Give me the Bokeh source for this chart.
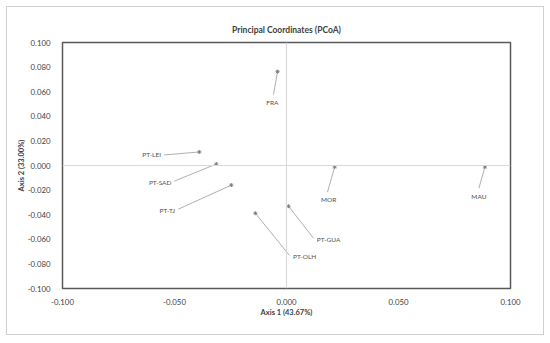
from bokeh.plotting import figure
from bokeh.models import ColumnDataSource, Span, Range1d, FixedTicker, CustomJSTickFormatter, LabelSet
from bokeh.core.properties import value
from bokeh.embed import file_html
from bokeh.resources import INLINE

# ---- data ----
names = ["FRA", "PT-LEI", "PT-SAD", "PT-TJ", "PT-OLH", "PT-GUA", "MOR", "MAU"]
axis1 = [-0.0040, -0.0389, -0.0313, -0.0246, -0.0139, 0.0009, 0.0215, 0.0886]
axis2 = [0.0763, 0.0110, 0.0012, -0.0159, -0.0388, -0.0331, -0.0012, -0.0012]
# label anchors (data coordinates) and leader-line start points
label_x = [-0.0063, -0.0602, -0.0564, -0.0532, 0.0081, 0.0188, 0.0188, 0.0859]
label_y = [0.0510, 0.0086, -0.0135, -0.0363, -0.0739, -0.0600, -0.0273, -0.0249]
lead_x = [-0.0058, -0.0546, -0.0501, -0.0483, 0.0013, 0.0121, 0.0183, 0.0859]
lead_y = [0.0576, 0.0086, -0.0127, -0.0355, -0.0731, -0.0592, -0.0216, -0.0184]
x_ticks = [-0.1, -0.05, 0.0, 0.05, 0.1]
y_ticks = [-0.1, -0.08, -0.06, -0.04, -0.02, 0.0, 0.02, 0.04, 0.06, 0.08, 0.1]

FONT = "Lato"
TXT = "#404040"

p = figure(width=538, height=329, output_backend="svg", toolbar_location=None,
           x_range=Range1d(-0.1, 0.1), y_range=Range1d(-0.1, 0.1),
           min_border_left=55, min_border_right=35, min_border_top=35, min_border_bottom=48)
p.styles = {"border": "1px solid #d0d0d0", "margin-left": "6px", "margin-top": "6px"}

p.title.text = "Principal Coordinates (PCoA)"
p.title.align = "center"
p.title.text_font = FONT
p.title.text_font_size = "8.5px"
p.title.text_font_style = "bold"
p.title.text_color = TXT
p.title.standoff = 16

p.grid.visible = False
p.outline_line_color = "#595959"
p.outline_line_width = 1.5

fmt = CustomJSTickFormatter(code="return tick.toFixed(3);")
for ax in (p.xaxis[0], p.yaxis[0]):
    ax.formatter = fmt
    ax.axis_line_color = None
    ax.major_tick_line_color = None
    ax.minor_tick_line_color = None
    ax.major_label_text_font = FONT
    ax.major_label_text_font_size = "7.8px"
    ax.major_label_text_color = TXT
    ax.axis_label_text_font = FONT
    ax.axis_label_text_font_size = "7.5px"
    ax.axis_label_text_font_style = "bold"
    ax.axis_label_text_color = TXT
p.xaxis[0].ticker = FixedTicker(ticks=x_ticks)
p.yaxis[0].ticker = FixedTicker(ticks=y_ticks)
p.xaxis[0].axis_label = "Axis 1 (43.67%)"
p.yaxis[0].axis_label = "Axis 2 (33.00%)"
p.xaxis[0].major_label_standoff = 4
p.xaxis[0].axis_label_standoff = 0
p.yaxis[0].major_label_standoff = 6
p.yaxis[0].axis_label_standoff = -1

p.add_layout(Span(location=0, dimension="width", line_color="#d9d9d9", line_width=1.2))
p.add_layout(Span(location=0, dimension="height", line_color="#d9d9d9", line_width=1.2))

src = ColumnDataSource(dict(x=axis1, y=axis2, name=names, lx=label_x, ly=label_y, sx=lead_x, sy=lead_y))
p.segment(x0="sx", y0="sy", x1="x", y1="y", source=src, line_color="#8c8c8c", line_width=0.7)
p.scatter(x="x", y="y", source=src, marker="asterisk", size=4, line_color="#7f7f7f", line_width=1)

labels = LabelSet(x="lx", y="ly", text="name", source=src, text_align="center", text_baseline="middle",
                  text_font=value(FONT), text_font_size="6.5px", text_color="#505050")
p.add_layout(labels)

open("out.html", "w").write(file_html(p, INLINE))
